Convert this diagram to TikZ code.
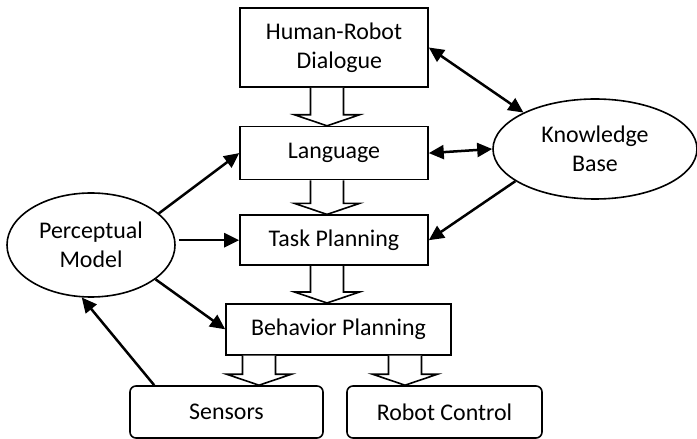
\documentclass[tikz,border=0pt]{standalone}
\usepackage{fontspec}
\setmainfont{Carlito}
\usepackage{tikz}
\usetikzlibrary{arrows.meta, positioning, shapes.geometric, calc}

% block arrow between two stacked boxes, optional sideways offset
\newcommand{\hollowarrow}[3][0]{%
    \draw[hollow] ($(#2)+(#1-16.5,0)$) -- ($(#3)+(#1-16.5,-11)$) -- ($(#3)+(#1-32.5,-11)$)
        -- ($(#3)+(#1,0)$) -- ($(#3)+(#1+32.5,-11)$) -- ($(#3)+(#1+16.5,-11)$) -- ($(#2)+(#1+16.5,0)$);}

\begin{document}
\begin{tikzpicture}[
    x=1bp, y=-1bp,
    every node/.style={font=\fontsize{24}{29}\selectfont},
    box/.style={rectangle, draw, line width=1.6bp, minimum width=188bp, align=center, inner sep=2bp},
    rbox/.style={box, rounded corners=6bp},
    oval/.style={ellipse, draw, line width=1.6bp, align=center, inner sep=0pt},
    arr/.style={-{Triangle[length=15bp, width=14bp]}, line width=2.5bp},
    darr/.style={{Triangle[length=15bp, width=14bp]}-{Triangle[length=15bp, width=14bp]}, line width=2.5bp},
    hollow/.style={line width=1.6bp, fill=white},
]
    \useasboundingbox (0,0) rectangle (697,439);

    % Column: processing stack
    \node[box, minimum height=79bp] (dlg) at (334,47.5) {Human-Robot\\\ \ Dialogue};
    \node[box, minimum height=53bp, below=38bp of dlg] (lang) {Language};
    \node[box, minimum height=50bp, below=34bp of lang] (task) {Task Planning};
    \node[box, minimum height=51bp, minimum width=225bp, below=37bp of task, xshift=4.5bp] (beh) {Behavior Planning};

    % Row: hardware
    \node[rbox, minimum height=52bp, minimum width=193bp] (sens) at (226.5,412) {Sensors};
    \node[rbox, minimum height=52bp, minimum width=195bp] (ctrl) at (444.5,412) {Robot Control};

    % Side: models
    \node[oval, minimum width=168bp, minimum height=104bp] (pm) at (91,245) {Perceptual\\Model};
    \node[oval, minimum width=204bp, minimum height=100bp] (kb) at (595,149) {Knowledge\\Base};

    % Block arrows
    \hollowarrow[-7]{dlg.south}{lang.north}
    \hollowarrow[-7]{lang.south}{task.north}
    \hollowarrow[-7]{task.south}{beh.north -| task.south}
    \hollowarrow[-79.5]{beh.south}{beh.south |- sens.north}
    \hollowarrow[66.5]{beh.south}{beh.south |- ctrl.north}

    % Knowledge links
    \draw[darr] (dlg.east) -- (kb.153);
    \draw[darr] (lang.east) -- (kb.west);
    \draw[arr] (kb.202) -- (task.east);

    % Perception links
    \draw[arr] (pm.25) -- (lang.west);
    \draw[arr] ([xshift=3bp]pm.east |- task.west) -- (task.west);
    \draw[arr] (pm.-28) -- (beh.west);
    \draw[arr] ([xshift=25bp]sens.north west) -- (pm.260);
\end{tikzpicture}
\end{document}
